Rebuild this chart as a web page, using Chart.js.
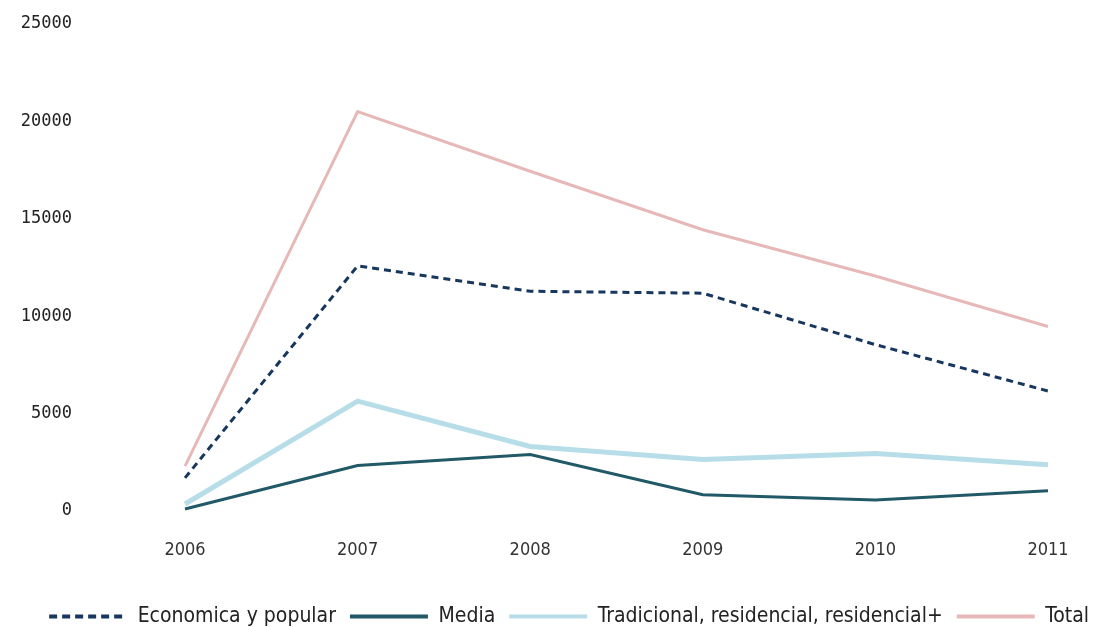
<!DOCTYPE html>
<html>

<head>
    <script src="https://cdn.jsdelivr.net/npm/chart.js"></script>
    <title>Vivienda por segmento</title>
    <style>
        body { margin: 0; background: #fff; }
        #wrap { width: 1103px; height: 627px; }
    </style>
</head>

<body>
    <div id="wrap"><canvas id="chart"></canvas></div>

    <script>
        const years = ['2006', '2007', '2008', '2009', '2010', '2011'];
        const economica = [1700, 12580, 11280, 11180, 8540, 6160];
        const media = [100, 2330, 2900, 830, 570, 1040];
        const tradicional = [360, 5640, 3310, 2640, 2950, 2380];
        const total = [2300, 20500, 17440, 14440, 12060, 9470];

        const narrow = "'Liberation Sans Narrow', 'DejaVu Sans Condensed', 'Roboto', sans-serif";

        // legend lines keep the dataset dash pattern
        function legendItems(chart) {
            return Chart.defaults.plugins.legend.labels.generateLabels(chart).map(item => {
                const ds = chart.data.datasets[item.datasetIndex];
                item.lineDash = ds.borderDash ? [8, 5] : [];
                item.pointStyle = 'line';
                item.lineWidth = 4;
                return item;
            });
        }

        new Chart(document.getElementById('chart'), {
            type: 'line',
            data: {
                labels: years,
                datasets: [{
                    label: 'Economica y popular',
                    data: economica,
                    borderColor: '#17375e',
                    backgroundColor: 'transparent',
                    borderWidth: 3,
                    borderDash: [7, 5],
                }, {
                    label: 'Media',
                    data: media,
                    borderColor: '#215967',
                    backgroundColor: 'transparent',
                    borderWidth: 3,
                }, {
                    label: 'Tradicional, residencial, residencial+',
                    data: tradicional,
                    borderColor: '#b7dee8',
                    backgroundColor: 'transparent',
                    borderWidth: 5,
                }, {
                    label: 'Total',
                    data: total,
                    borderColor: '#e6b9b8',
                    backgroundColor: 'transparent',
                    borderWidth: 3,
                }]
            },
            options: {
                responsive: true,
                maintainAspectRatio: false,
                animation: false,
                elements: {
                    point: { radius: 0 },
                    line: { tension: 0 }
                },
                layout: {
                    padding: { top: 24, right: 0, bottom: -10, left: 0 }
                },
                plugins: {
                    tooltip: { enabled: false },
                    legend: {
                        position: 'bottom',
                        align: 'end',
                        labels: {
                            usePointStyle: true,
                            pointStyleWidth: 78,
                            padding: 14,
                            color: '#222',
                            font: { family: narrow, size: 21 },
                            generateLabels: legendItems
                        }
                    }
                },
                scales: {
                    x: {
                        grid: { display: false },
                        border: { display: false },
                        ticks: {
                            color: '#333',
                            padding: 21,
                            maxRotation: 0,
                            font: { family: narrow, size: 18 }
                        },
                        afterFit: scale => {
                            scale.height = 81;
                            scale.paddingRight = 55;
                        }
                    },
                    y: {
                        min: 0,
                        max: 25000,
                        grid: { display: false },
                        border: { display: false },
                        ticks: {
                            stepSize: 5000,
                            color: '#222',
                            padding: 105,
                            font: { family: "'DejaVu Sans Mono', monospace", size: 17 },
                            callback: value => String(value)
                        },
                        afterFit: scale => {
                            scale.width = 185;
                            scale.paddingTop = 8;
                            scale.paddingBottom = 8;
                        }
                    }
                }
            }
        });
    </script>
</body>

</html>
